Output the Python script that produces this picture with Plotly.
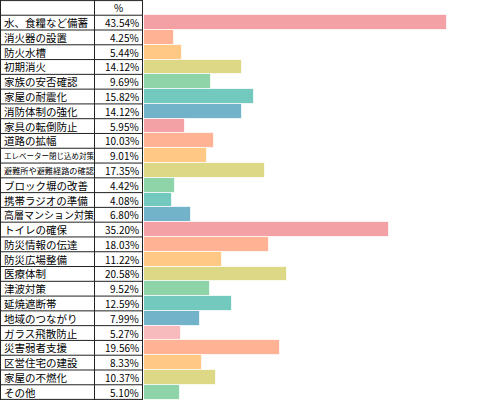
import plotly.graph_objects as go

categories = [
    "水、食糧など備蓄", "消火器の設置", "防火水槽", "初期消火", "家族の安否確認",
    "家屋の耐震化", "消防体制の強化", "家具の転倒防止", "道路の拡幅",
    "エレベーター閉じ込め対策", "避難所や避難経路の確認", "ブロック塀の改善",
    "携帯ラジオの準備", "高層マンション対策", "トイレの確保", "防災情報の伝達",
    "防災広場整備", "医療体制", "津波対策", "延焼遮断帯", "地域のつながり",
    "ガラス飛散防止", "災害弱者支援", "区営住宅の建設", "家屋の不燃化", "その他",
]
values = [
    43.54, 4.25, 5.44, 14.12, 9.69, 15.82, 14.12, 5.95, 10.03, 9.01, 17.35,
    4.42, 4.08, 6.80, 35.20, 18.03, 11.22, 20.58, 9.52, 12.59, 7.99, 5.27,
    19.56, 8.33, 10.37, 5.10,
]
header_label = "%"
value_labels = [f"{v:.2f}%" for v in values]

palette = ["#F4A1A5", "#FFB394", "#FFC884", "#DDD886", "#8FD4A9", "#73C9BD", "#73B3C9"]
colors = [palette[i % len(palette)] for i in range(len(categories))]
colors[21] = "#F7BBBE"

W, H = 500, 400
n = len(categories)
col1 = 94.5
col2 = 142.5
bar_start = 144

fig = go.Figure(go.Bar(
    x=values, y=categories, orientation="h", width=1.0,
    marker=dict(color=colors, line=dict(color="rgba(255,255,255,0.7)", width=1)),
    hoverinfo="x+y",
))

top = -1.53
bottom = n - 0.47
shapes = []
line = dict(color="#222", width=1)
for k in range(0, n):
    yv = k - 0.5
    shapes.append(dict(type="line", xref="paper", yref="y", x0=0, x1=col2 / W,
                       y0=yv, y1=yv, line=line))
shapes.append(dict(type="line", xref="paper", yref="paper", x0=0, x1=col2 / W,
                   y0=1 - 0.6 / H, y1=1 - 0.6 / H, line=line))
shapes.append(dict(type="line", xref="paper", yref="paper", x0=0, x1=col2 / W,
                   y0=0.6 / H, y1=0.6 / H, line=line))
for xv in (0.5, col1, col2):
    shapes.append(dict(type="line", xref="paper", yref="paper", x0=xv / W, x1=xv / W,
                       y0=0, y1=1, line=line))

font = "Noto Sans CJK JP"
ann = []
for c, vl in zip(categories, value_labels):
    size = min(10.5, 90.0 / len(c))
    ann.append(dict(xref="paper", yref="y", x=2 / W, y=c, text=c, showarrow=False,
                    xanchor="left", yanchor="middle",
                    font=dict(family=font, size=size, color="#000")))
    ann.append(dict(xref="paper", yref="y", x=141 / W, y=c, text=vl, showarrow=False,
                    xanchor="right", yanchor="middle",
                    font=dict(family=font, size=10, color="#000")))
ann.append(dict(xref="paper", yref="y", x=118 / W, y=-1, text=header_label,
                showarrow=False, xanchor="center", yanchor="middle",
                font=dict(family=font, size=10, color="#000")))

fig.update_layout(
    width=W, height=H, margin=dict(l=0, r=0, t=0, b=0),
    paper_bgcolor="white", plot_bgcolor="white", showlegend=False,
    xaxis=dict(domain=[bar_start / W, 1], range=[0, (W - bar_start) / 6.96],
               visible=False, fixedrange=True),
    yaxis=dict(type="category", categoryorder="array", categoryarray=categories,
               range=[bottom, top], visible=False, fixedrange=True),
    shapes=shapes, annotations=ann, bargap=0,
)

fig.write_html(
    "out.html",
    config={"displayModeBar": False},
    post_script="document.body.style.margin='0';document.body.style.overflow='hidden';",
)
